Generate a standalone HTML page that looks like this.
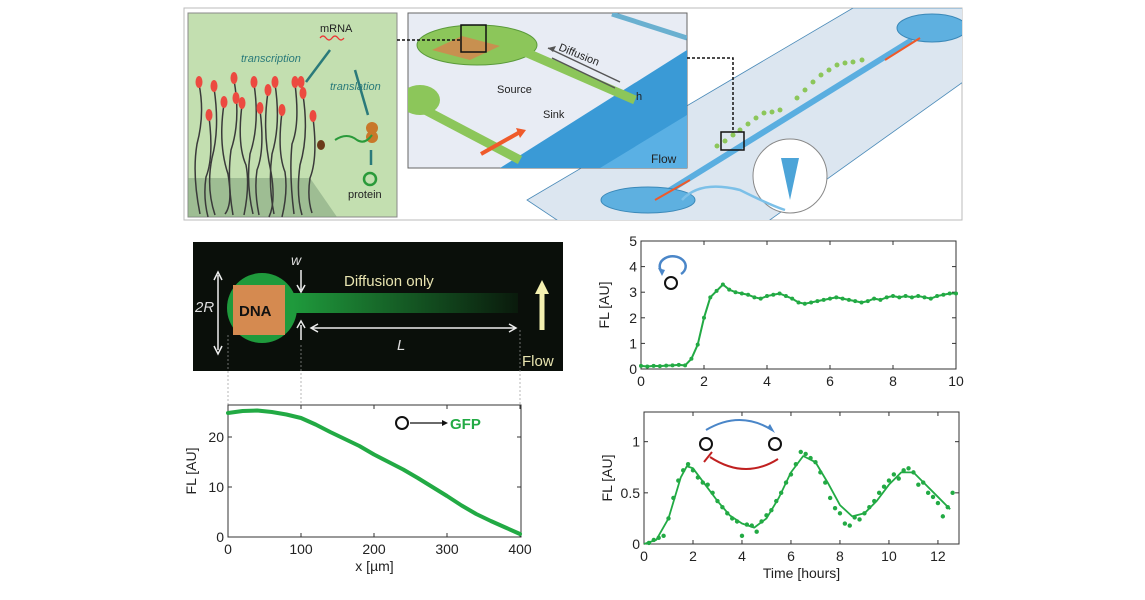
<!DOCTYPE html>
<html><head><meta charset="utf-8"><style>
body{margin:0;background:#fff;width:1145px;height:600px;overflow:hidden;font-family:"Liberation Sans",sans-serif}
svg{position:absolute;left:0;top:0}
</style></head><body>
<svg width="1145" height="600" font-family="Liberation Sans, sans-serif">
<defs>
<clipPath id="topclip"><rect x="184" y="8" width="778" height="212"/></clipPath>
<clipPath id="insetclip"><rect x="408" y="13" width="279" height="155"/></clipPath>
<linearGradient id="fade" x1="0" x2="1"><stop offset="0" stop-color="#1f9a3c"/><stop offset="1" stop-color="#0a1a0c"/></linearGradient>
</defs>
<!-- Top illustration -->
<g>
<rect x="184" y="8" width="778" height="212" fill="#fff" stroke="#bbb"/>
<g clip-path="url(#topclip)">
<polygon points="527,200 853,8 963,8 963,82 767,222 560,222" fill="#dce6f0" stroke="#4a8ab8" stroke-width="0.8"/>
<path d="M667,192 L912,40" stroke="#5aaee0" stroke-width="6"/>
<ellipse cx="648" cy="200" rx="47" ry="13" fill="#5eb0e0" stroke="#3a88b8"/>
<ellipse cx="932" cy="28" rx="35" ry="14" fill="#5eb0e0" stroke="#3a88b8"/>
<path d="M655,200 L690,180 M885,60 L920,38" stroke="#ef5a2a" stroke-width="2"/>
<g fill="#8cc65a">
<circle cx="717" cy="146" r="2.5"/><circle cx="725" cy="141" r="2.5"/><circle cx="733" cy="135" r="2.5"/><circle cx="740" cy="130" r="2.5"/><circle cx="748" cy="124" r="2.5"/><circle cx="756" cy="118" r="2.5"/><circle cx="764" cy="113" r="2.5"/><circle cx="772" cy="112" r="2.5"/><circle cx="780" cy="110" r="2.5"/><circle cx="797" cy="98" r="2.5"/><circle cx="805" cy="90" r="2.5"/><circle cx="813" cy="82" r="2.5"/><circle cx="821" cy="75" r="2.5"/><circle cx="829" cy="70" r="2.5"/><circle cx="837" cy="65" r="2.5"/><circle cx="845" cy="63" r="2.5"/><circle cx="853" cy="62" r="2.5"/><circle cx="862" cy="60" r="2.5"/>
</g>
<rect x="721" y="132" width="23" height="18" fill="none" stroke="#111" stroke-width="1.5"/>
<circle cx="790" cy="176" r="37" fill="#fff" stroke="#888"/>
<path d="M781,158 L799,158 L790,200 Z" fill="#4ca4d8"/>
<path d="M682,200 Q700,180 740,190 Q770,205 785,210" stroke="#7cc0e8" stroke-width="2.5" fill="none"/>
</g>
<rect x="188" y="13" width="209" height="204" fill="#c3dfb0" stroke="#888"/>
<polygon points="188,178 310,178 337,217 188,217" fill="#7fa07c" opacity="0.55"/>
<g stroke="#3a3a3a" stroke-width="1.5" fill="none">
<path d="M199,84 q6,30 -2,60 q-5,30 3,70"/><path d="M214,88 q6,40 -2,70 q-6,30 3,57"/><path d="M224,104 q-6,40 4,70 q5,30 -3,40"/><path d="M234,80 q7,40 -3,70 q-4,30 2,65"/><path d="M242,105 q-5,40 4,60 q4,20 -2,50"/><path d="M254,84 q6,40 -4,70 q-4,30 3,60"/><path d="M268,92 q-6,40 3,80 q5,30 -2,45"/><path d="M275,84 q6,40 -3,70 q-4,30 2,60"/><path d="M282,112 q-5,40 3,60 q3,20 -3,45"/><path d="M295,84 q5,40 -3,60 q-3,30 2,70"/><path d="M303,95 q6,40 -3,70 q-4,30 2,50"/><path d="M313,118 q5,40 -3,60 q-3,20 2,35"/><path d="M260,110 q5,40 -3,60 q-3,20 2,45"/><path d="M209,117 q5,40 -3,60 q-3,20 2,40"/>
</g>
<g fill="#ec4a40">
<ellipse cx="199" cy="82" rx="3.5" ry="6"/><ellipse cx="214" cy="86" rx="3.5" ry="6"/><ellipse cx="224" cy="102" rx="3.5" ry="6"/><ellipse cx="234" cy="78" rx="3.5" ry="6"/><ellipse cx="242" cy="103" rx="3.5" ry="6"/><ellipse cx="254" cy="82" rx="3.5" ry="6"/><ellipse cx="268" cy="90" rx="3.5" ry="6"/><ellipse cx="275" cy="82" rx="3.5" ry="6"/><ellipse cx="282" cy="110" rx="3.5" ry="6"/><ellipse cx="295" cy="82" rx="3.5" ry="6"/><ellipse cx="303" cy="93" rx="3.5" ry="6"/><ellipse cx="313" cy="116" rx="3.5" ry="6"/><ellipse cx="260" cy="108" rx="3.5" ry="6"/><ellipse cx="209" cy="115" rx="3.5" ry="6"/><ellipse cx="236" cy="98" rx="3.5" ry="6"/><ellipse cx="301" cy="82" rx="3.5" ry="6"/></g>
<ellipse cx="321" cy="145" rx="4" ry="5" fill="#6a3a1a"/>
<text x="320" y="32" font-size="11" fill="#222">mRNA</text>
<path d="M320,38 q3,-4 6,0 q3,4 6,0 q3,-4 6,0 q3,4 6,0" stroke="#e33" fill="none" stroke-width="1.2"/>
<text x="241" y="62" font-size="11" font-style="italic" fill="#2a7a7a">transcription</text>
<text x="330" y="90" font-size="11" font-style="italic" fill="#2a7a7a">translation</text>
<text x="348" y="198" font-size="11" fill="#222">protein</text>
<circle cx="370" cy="179" r="6" fill="none" stroke="#2a9a3a" stroke-width="2.5"/>
<circle cx="372" cy="128" r="6" fill="#c8782a"/><circle cx="372" cy="137" r="6" fill="#c8782a"/>
<path d="M335,140 q12,-8 22,0 q8,5 15,-5" stroke="#2a9a3a" stroke-width="2" fill="none"/>
<path d="M306,82 L330,50" stroke="#2a7a7a" stroke-width="2.5"/><path d="M355,70 L368,115" stroke="#2a7a7a" stroke-width="2.5"/><path d="M371,150 L371,165" stroke="#2a7a7a" stroke-width="2.5"/>
<rect x="408" y="13" width="279" height="155" fill="#e8ecf4" stroke="#666"/>
<g clip-path="url(#insetclip)">
<polygon points="500,168 687,50 687,168" fill="#3a9ad6"/>
<polygon points="600,168 687,115 687,168" fill="#5ab0e4"/>
<ellipse cx="420" cy="100" rx="20" ry="15" fill="#8cc65a"/>
<path d="M425,110 L520,160" stroke="#8cc65a" stroke-width="9"/>
<ellipse cx="477" cy="45" rx="60" ry="20" fill="#8cc65a" stroke="#5a9a3a"/>
<path d="M525,52 L635,100" stroke="#8cc65a" stroke-width="9"/>
<path d="M612,14 L687,38" stroke="#6ab0d0" stroke-width="5"/>
<polygon points="432,50 462,36 500,46 470,60" fill="#c89050"/>
<path d="M548,48 L620,82 M552,58 L615,88" stroke="#555" stroke-width="1.5"/>
<polygon points="548,48 556,46 553,52" fill="#555"/>
<path d="M475,168 L540,130 M475,155 L500,140" stroke="none"/>
<path d="M481,154 L520,132" stroke="#ef5a2a" stroke-width="4"/><polygon points="516,128 526,130 520,138" fill="#ef5a2a"/>
</g>
<rect x="461" y="25" width="25" height="27" fill="none" stroke="#111" stroke-width="1.5"/>
<text x="558" y="50" font-size="11" fill="#222" transform="rotate(22 558 50)">Diffusion</text>
<text x="497" y="93" font-size="11" fill="#222">Source</text>
<text x="543" y="118" font-size="11" fill="#222">Sink</text>
<text x="636" y="100" font-size="11" fill="#222">h</text>
<text x="651" y="163" font-size="12" fill="#222">Flow</text>
<path d="M397,40 L461,40 M687,58 L733,58 L733,132" stroke="#111" stroke-width="1.5" stroke-dasharray="3,2" fill="none"/>
</g>
<!-- Microscope image -->
<g>
<rect x="193" y="242" width="370" height="129" fill="#0a0f0a"/>
<circle cx="262" cy="308" r="35" fill="#1f9a3c"/>
<rect x="293" y="293" width="225" height="20" fill="url(#fade)"/>
<rect x="233" y="285" width="52" height="50" fill="#d58a50"/>
<text x="239" y="316" font-size="15" font-weight="bold" fill="#111">DNA</text>
<text x="195" y="312" font-size="15" font-style="italic" fill="#ddd">2R</text>
<text x="291" y="265" font-size="14" font-style="italic" fill="#ddd">w</text>
<text x="344" y="286" font-size="15" fill="#e8e4b0">Diffusion only</text>
<text x="397" y="350" font-size="15" font-style="italic" fill="#ddd">L</text>
<text x="522" y="366" font-size="15" fill="#e8e4b0">Flow</text>
<path d="M218,275 L218,350 M301,270 L301,290 M301,325 L301,340 M312,328 L515,328" stroke="#eee" stroke-width="1.5"/>
<path d="M214,280 L218,272 L222,280 M214,346 L218,354 L222,346 M297,285 L301,292 L305,285 M297,328 L301,321 L305,328 M318,324 L311,328 L318,332 M509,324 L516,328 L509,332" stroke="#eee" stroke-width="1.5" fill="none"/>
<path d="M542,330 L542,292" stroke="#f4f0b0" stroke-width="5"/><polygon points="535,294 542,280 549,294" fill="#f4f0b0"/>
<path d="M228,335 L228,405 M301,345 L301,405 M520,330 L520,405" stroke="#999" stroke-width="0.7" stroke-dasharray="2,2"/>
</g>
<g id="p1"></g>
<g id="p2"></g>
<g id="p3"></g>
</svg>
<script>
const NS='http://www.w3.org/2000/svg';
const profX=[0,20,40,60,80,100,120,140,160,180,200,220,240,260,280,300,320,340,360,380,400];
const profY=[24.8,25.2,25.3,25.0,24.5,23.8,22.5,21.0,19.6,18.2,16.5,15.0,13.5,11.8,10.0,8.2,6.3,4.6,3.2,1.9,0.6];
const p1XTicks=[0,100,200,300,400];
const p1YTicks=[0,10,20];
const autoT=[0,0.2,0.4,0.6,0.8,1.0,1.2,1.4,1.6,1.8,2.0,2.2,2.4,2.6,2.8,3.0,3.2,3.4,3.6,3.8,4.0,4.2,4.4,4.6,4.8,5.0,5.2,5.4,5.6,5.8,6.0,6.2,6.4,6.6,6.8,7.0,7.2,7.4,7.6,7.8,8.0,8.2,8.4,8.6,8.8,9.0,9.2,9.4,9.6,9.8,10.0];
const autoY=[0.12,0.1,0.12,0.11,0.13,0.14,0.16,0.14,0.4,0.95,2.0,2.8,3.05,3.3,3.1,3.0,2.95,2.9,2.8,2.75,2.85,2.9,2.95,2.85,2.75,2.6,2.55,2.6,2.65,2.7,2.75,2.8,2.75,2.7,2.65,2.6,2.65,2.75,2.7,2.8,2.85,2.8,2.85,2.8,2.85,2.8,2.75,2.85,2.9,2.95,2.95];
const p2XTicks=[0,2,4,6,8,10];
const p2YTicks=[0,1,2,3,4,5];
const oscT=[0,0.5,1.0,1.5,1.75,2.0,2.5,3.0,3.5,4.0,4.5,5.0,5.5,6.0,6.5,7.0,7.5,8.0,8.5,9.0,9.5,10.0,10.5,11.0,11.5,12.0,12.5];
const oscFit=[0,0.04,0.25,0.65,0.76,0.74,0.58,0.42,0.28,0.2,0.16,0.25,0.45,0.7,0.86,0.8,0.6,0.38,0.27,0.3,0.42,0.58,0.7,0.7,0.58,0.46,0.34];
const oscDotT=[0.2,0.4,0.6,0.8,1.0,1.2,1.4,1.6,1.8,2.0,2.2,2.4,2.6,2.8,3.0,3.2,3.4,3.6,3.8,4.0,4.2,4.4,4.6,4.8,5.0,5.2,5.4,5.6,5.8,6.0,6.2,6.4,6.6,6.8,7.0,7.2,7.4,7.6,7.8,8.0,8.2,8.4,8.6,8.8,9.0,9.2,9.4,9.6,9.8,10.0,10.2,10.4,10.6,10.8,11.0,11.2,11.4,11.6,11.8,12.0,12.2,12.4,12.6];
const oscDotY=[0.01,0.04,0.06,0.08,0.25,0.45,0.62,0.72,0.78,0.72,0.65,0.6,0.58,0.5,0.42,0.36,0.3,0.25,0.22,0.08,0.19,0.18,0.12,0.22,0.28,0.33,0.42,0.5,0.6,0.68,0.78,0.9,0.88,0.84,0.8,0.7,0.6,0.45,0.35,0.3,0.2,0.18,0.26,0.24,0.3,0.36,0.42,0.5,0.56,0.62,0.68,0.64,0.72,0.74,0.7,0.58,0.6,0.5,0.46,0.4,0.27,0.36,0.5];
const p3XTicks=[0,2,4,6,8,10,12];
const p3YTicks=[0,0.5,1];
function el(parent,tag,attrs,text){const e=document.createElementNS(NS,tag);for(const k in attrs)e.setAttribute(k,attrs[k]);if(text!==undefined)e.textContent=text;parent.appendChild(e);return e;}
function axes(g,L,T,R,B,sx,sy,xt,yt,xlab,ylab){
  const f=el(g,'rect',{x:L,y:T,width:R-L,height:B-T,fill:'none',stroke:'#333','stroke-width':1});
  
  
  xt.forEach(v=>{const x=sx(v);el(g,'line',{x1:x,x2:x,y1:B,y2:B-4,stroke:'#333'});el(g,'line',{x1:x,x2:x,y1:T,y2:T+4,stroke:'#333'});
    const t=el(g,'text',{x:x,y:B+17,'font-size':14,'text-anchor':'middle',fill:'#222'},String(v));
    
    });
  yt.forEach(v=>{const y=sy(v);el(g,'line',{x1:L,x2:L+4,y1:y,y2:y,stroke:'#333'});el(g,'line',{x1:R,x2:R-4,y1:y,y2:y,stroke:'#333'});
    const t=el(g,'text',{x:L-4,y:y+5,'font-size':14,'text-anchor':'end',fill:'#222'},String(v));
    
    });
  if(xlab){const t=el(g,'text',{x:(L+R)/2,y:B+34,'font-size':14,'text-anchor':'middle',fill:'#222'},xlab);
    
    }
  const yl=el(g,'text',{x:0,y:0,'font-size':14,'text-anchor':'middle',fill:'#222',transform:`translate(${L-32},${(T+B)/2}) rotate(-90)`},ylab);
  
  
}
(function(){const g=document.getElementById('p1');const L=228,R=521,T=405,B=537;
const sx=v=>L+(v/400)*(R-L-1),sy=v=>B-(v/26.4)*(B-T);
axes(g,L,T,R,B,sx,sy,p1XTicks,p1YTicks,'x [µm]','FL [AU]');
const pl=el(g,'polyline',{points:profX.map((x,i)=>sx(x)+','+sy(profY[i])).join(' '),fill:'none',stroke:'#22aa44','stroke-width':4,'stroke-linejoin':'round','stroke-linecap':'round'});


el(g,'circle',{cx:402,cy:423,r:6,fill:'none',stroke:'#111','stroke-width':2});
el(g,'line',{x1:410,x2:442,y1:423,y2:423,stroke:'#111','stroke-width':1.3});
el(g,'polygon',{points:'442,420 448,423 442,426',fill:'#111'});
const lg=el(g,'text',{x:450,y:429,'font-size':15,'font-weight':'bold',fill:'#22aa44'},'GFP');


})();
(function(){const g=document.getElementById('p2');const L=641,R=956,T=241,B=369;
const sx=v=>L+(v/10)*(R-L),sy=v=>B-(v/5)*(B-T);
axes(g,L,T,R,B,sx,sy,p2XTicks,p2YTicks,null,'FL [AU]');
const pl=el(g,'polyline',{points:autoT.map((t,i)=>sx(t)+','+sy(autoY[i])).join(' '),fill:'none',stroke:'#22aa44','stroke-width':2});


autoT.forEach((t,i)=>{const c=el(g,'circle',{cx:sx(t),cy:sy(autoY[i]),r:2,fill:'#22aa44'});

});
el(g,'circle',{cx:671,cy:283,r:6,fill:'none',stroke:'#111','stroke-width':2});
el(g,'path',{d:'M662,272 A13,10 0 1 1 681,274',fill:'none',stroke:'#4a86c8','stroke-width':2.5});
el(g,'polygon',{points:'658,268 665,270 662,276',fill:'#4a86c8'});
})();
(function(){const g=document.getElementById('p3');const L=644,R=959,T=412,B=544;
const sx=v=>L+(v/12.86)*(R-L),sy=v=>B-(v/1.29)*(B-T);
axes(g,L,T,R,B,sx,sy,p3XTicks,p3YTicks,'Time [hours]','FL [AU]');
const pl=el(g,'polyline',{points:oscT.map((t,i)=>sx(t)+','+sy(oscFit[i])).join(' '),fill:'none',stroke:'#22aa44','stroke-width':1.8,'stroke-linejoin':'round'});


oscDotT.forEach((t,i)=>{const c=el(g,'circle',{cx:sx(t),cy:sy(oscDotY[i]),r:2.2,fill:'#22aa44'});

});
el(g,'circle',{cx:706,cy:444,r:6,fill:'none',stroke:'#111','stroke-width':2});
el(g,'circle',{cx:775,cy:444,r:6,fill:'none',stroke:'#111','stroke-width':2});
el(g,'path',{d:'M706,430 Q740,410 772,430',fill:'none',stroke:'#4a86c8','stroke-width':2});
el(g,'polygon',{points:'767,428 775,433 770,424',fill:'#4a86c8'});
el(g,'path',{d:'M710,457 Q745,480 778,459',fill:'none',stroke:'#c02020','stroke-width':2});
el(g,'line',{x1:704,x2:712,y1:462,y2:452,stroke:'#c02020','stroke-width':2});
})();
</script>
</body></html>
